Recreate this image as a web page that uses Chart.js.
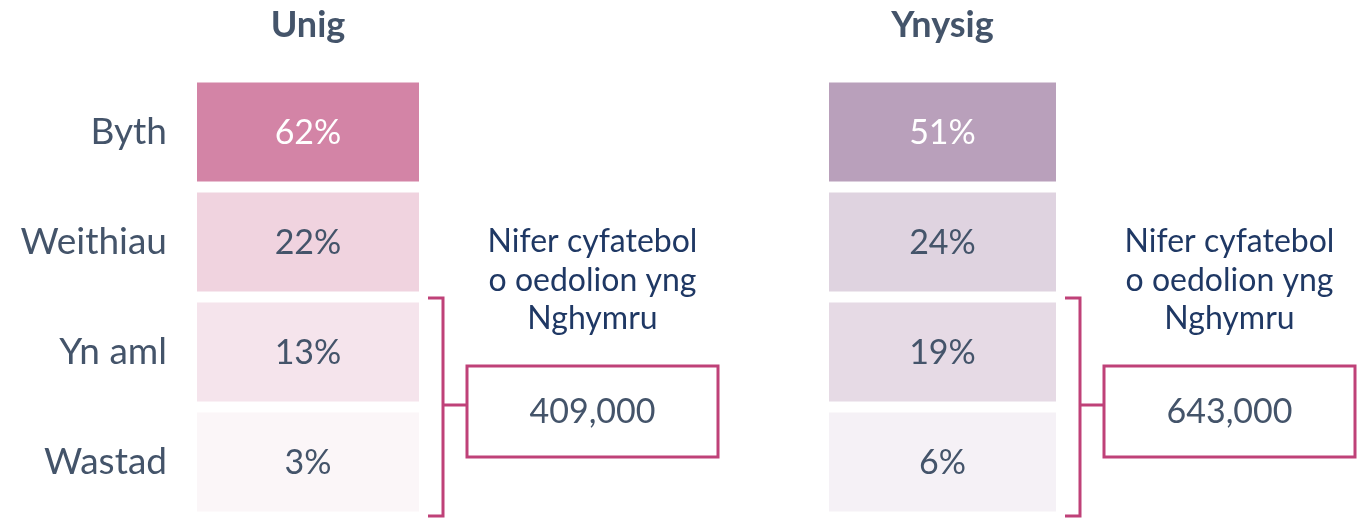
<!DOCTYPE html>
<html>
<head>
<meta charset="utf-8">
<script src="https://cdn.jsdelivr.net/npm/chart.js@4.4.1/dist/chart.umd.min.js"></script>
<style>
  html, body { margin: 0; padding: 0; background: #ffffff; }
  #wrap { position: relative; width: 1370px; height: 519px; }
  #left { position: absolute; left: 0; top: 0; width: 740px; height: 519px; }
  #right { position: absolute; left: 740px; top: 0; width: 630px; height: 519px; }
</style>
</head>
<body>
<div id="wrap">
  <div id="left"><canvas id="c1"></canvas></div>
  <div id="right"><canvas id="c2"></canvas></div>
</div>
<script>
// ---- data ----
const categories = ['Byth', 'Weithiau', 'Yn aml', 'Wastad'];
const groupTitles = ['Unig', 'Ynysig'];
const unigValues = [62, 22, 13, 3];
const ynysigValues = [51, 24, 19, 6];
const equivalentAdults = [409000, 643000];
const noteLines = ['Nifer cyfatebol', 'o oedolion yng', 'Nghymru'];
const bracketRows = [2, 3]; // Yn aml + Wastad

// ---- styles ----
const unigColors = ['#D384A6', '#F0D3DF', '#F5E4EC', '#FBF6F8'];
const ynysigColors = ['#B9A0BB', '#DFD3E0', '#E6DAE5', '#F5F1F6'];
const textColor = '#44546A';
const noteColor = '#1F3864';
const accent = '#BF4178';
const FONT = 'Lato, "Open Sans", sans-serif';

const panelPlugin = {
  id: 'panelPlugin',
  afterDatasetsDraw(chart, args, opts) {
    const ctx = chart.ctx;
    const meta = chart.getDatasetMeta(0);
    ctx.save();
    ctx.textAlign = 'center';
    ctx.textBaseline = 'middle';
    ctx.font = '34px ' + FONT;
    meta.data.forEach((el, i) => {
      const cx = (el.x + el.base) / 2;
      ctx.fillStyle = i === 0 ? '#FFFFFF' : textColor;
      ctx.fillText(opts.values[i] + '%', cx, el.y + 1);
    });
    ctx.restore();
  },
  afterDraw(chart, args, opts) {
    const ctx = chart.ctx;
    const area = chart.chartArea;
    const y = chart.scales.y;
    ctx.save();
    // title
    ctx.textAlign = 'center';
    ctx.textBaseline = 'middle';
    ctx.fillStyle = textColor;
    ctx.font = 'bold 36px ' + FONT;
    ctx.fillText(opts.title, (area.left + area.right) / 2, 25);

    // bracket
    const pitch = y.getPixelForValue(1) - y.getPixelForValue(0);
    const top = y.getPixelForValue(bracketRows[0]) - pitch / 2 + 1;
    const bottom = y.getPixelForValue(bracketRows[1]) + pitch / 2 - 1;
    const mid = (top + bottom) / 2;
    const bx = area.right + 24;
    ctx.strokeStyle = accent;
    ctx.lineWidth = 3;
    ctx.lineCap = 'butt';
    ctx.beginPath();
    ctx.moveTo(bx - 15, top);
    ctx.lineTo(bx, top);
    ctx.lineTo(bx, bottom);
    ctx.lineTo(bx - 15, bottom);
    ctx.moveTo(bx, mid - 2);
    ctx.lineTo(bx + 24, mid - 2);
    ctx.stroke();

    // box
    const boxL = bx + 24, boxW = 251, boxT = mid - 41, boxH = 91;
    ctx.strokeRect(boxL, boxT, boxW, boxH);
    const cx = boxL + boxW / 2;
    ctx.fillStyle = textColor;
    ctx.font = '34px ' + FONT;
    ctx.fillText(opts.total.toLocaleString('en-GB'), cx, boxT + boxH / 2 + 1);

    // note
    ctx.fillStyle = noteColor;
    ctx.font = '32px ' + FONT;
    const offsets = [-124, -85, -47];
    noteLines.forEach((t, i) => ctx.fillText(t, cx, boxT + offsets[i]));
    ctx.restore();
  }
};

function makePanel(canvasId, title, values, colors, total, showLabels, padLeft, padRight) {
  return new Chart(document.getElementById(canvasId), {
    type: 'bar',
    data: {
      labels: categories,
      datasets: [{
        label: title,
        data: values.map(() => 1),
        backgroundColor: colors,
        borderWidth: 0,
        barPercentage: 0.9,
        categoryPercentage: 1.0
      }]
    },
    options: {
      indexAxis: 'y',
      responsive: true,
      maintainAspectRatio: false,
      animation: false,
      layout: { padding: { top: 77, bottom: 2, left: padLeft, right: padRight } },
      plugins: {
        legend: { display: false },
        tooltip: { enabled: false },
        panelPlugin: { title: title, values: values, total: total }
      },
      scales: {
        x: { display: false, min: 0, max: 1 },
        y: {
          display: showLabels,
          grid: { display: false, drawTicks: false },
          border: { display: false },
          ticks: { color: textColor, font: { family: FONT, size: 37 }, padding: 30 },
          afterFit: (scale) => {
            if (showLabels) scale.width = 197 - padLeft;
            scale.paddingTop = 0;
            scale.paddingBottom = 0;
          }
        }
      }
    },
    plugins: [panelPlugin]
  });
}

makePanel('c1', groupTitles[0], unigValues, unigColors, equivalentAdults[0], true, 0, 740 - 419);
makePanel('c2', groupTitles[1], ynysigValues, ynysigColors, equivalentAdults[1], false, 829 - 740, 1370 - 1056);
</script>
</body>
</html>
